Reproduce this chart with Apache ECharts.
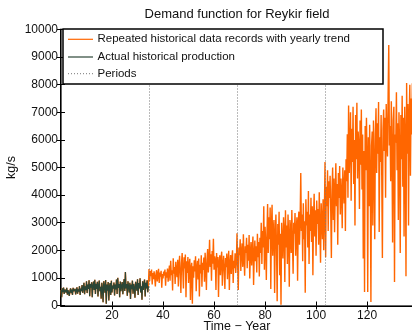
<!DOCTYPE html>
<html>
<head>
<meta charset="utf-8">
<script src="https://cdn.jsdelivr.net/npm/echarts@6/dist/echarts.min.js"></script>
<style>
  html, body { margin: 0; padding: 0; background: #ffffff; }
  #chart { width: 412px; height: 334px; }
</style>
</head>
<body>
<div id="chart"></div>
<script>
// Time between consecutive records (years) and start of each repetition period
const STEP = 0.25;
const PERIOD_STARTS = [34.5, 69, 103.5];

// Actual historical production, kg/s (years 0 - 34.25)
const historical = [
  560, 300, 620, 480, 650, 420, 580, 510,
  470, 640, 390, 560, 600, 350, 530, 620,
  450, 580, 380, 640, 520, 470, 600, 400,
  560, 660, 430, 590, 500, 700, 380, 610,
  520, 740, 460, 650, 820, 410, 700, 560,
  880, 450, 760, 600, 910, 340, 780, 650,
  840, 300, 720, 870, 560, 930, 420, 790,
  600, 860, 330, 740, 900, 520, 680, 250,
  820, 610, 120, 880, 700, 460, 920, 60,
  760, 540, 850, 180, 690, 810, 380, 900,
  470, 720, 610, 830, 360, 760, 580, 940,
  420, 1000, 640, 780, 300, 870, 520, 700,
  850, 410, 760, 960, 530, 1210, 620, 780,
  350, 880, 690, 470, 820, 240, 760, 590,
  900, 430, 780, 650, 280, 860, 720, 540,
  950, 380, 810, 620, 990, 470, 700, 210,
  880, 560, 760, 940, 330, 820, 620, 910,
  480, 700
];

// Repeated records with yearly trend, second period (years 34.5 - 68.75)
const period1 = [
  1320, 880, 1250, 1060, 1300, 760, 1180, 950,
  1240, 1010, 690, 1150, 1280, 870, 1120, 1330,
  820, 1190, 1050, 1260, 640, 1140, 980, 1230,
  1080, 1300, 720, 1200, 1010, 1340, 860, 1170,
  1450, 900, 1620, 1100, 1280, 540, 1710, 1150,
  1390, 780, 1580, 1240, 1030, 1660, 690, 1450,
  1800, 1120, 450, 1530, 1900, 1270, 620, 1750,
  1340, 1850, 300, 1600, 1180, 1760, 820, 1480,
  1690, 200, 1370, 1550, 60, 1420, 1010, 1640,
  1230, 1780, 520, 1360, 1620, 940, 1700, 330,
  1480, 1160, 1820, 680, 1550, 1290, 1740, 860,
  1910, 1350, 560, 1680, 2050, 1200, 1590, 2380,
  1400, 1860, 900, 1970, 1510, 2420, 1300, 1780,
  1650, 560, 1900, 1380, 1760, 310, 1540, 1820,
  1100, 1680, 1950, 720, 1470, 1800, 1250, 600,
  1720, 1390, 1880, 950, 1600, 1980, 560, 1510,
  1830, 1140, 1700, 2000, 820, 1620, 1350, 1890,
  1180, 1560
];

// Third period (years 69 - 103.25)
const period2 = [
  2620, 1500, 560, 2100, 1820, 2400, 1250, 1950,
  2250, 1400, 2580, 1700, 1080, 2150, 1900, 2450,
  1350, 2200, 1620, 2550, 980, 1900, 2300, 1450,
  2050, 2500, 740, 1800, 2350, 1600, 2150, 1200,
  2600, 1750, 2300, 1050, 2450, 1900, 3000, 1500,
  2700, 2100, 3600, 1300, 2850, 2300, 920, 2600,
  3680, 1900, 3200, 2400, 3550, 600, 2900, 3650,
  1800, 2750, 3100, 450, 2500, 3300, 2050, 150,
  2950, 2200, 3400, 1100, 2600, 30, 3000, 2350,
  1700, 3200, 2700, 850, 3450, 2100, 2900, 1500,
  3300, 2450, 680, 3100, 2800, 1900, 3460, 2250,
  1150, 3000, 2600, 3350, 1800, 2750, 3200, 900,
  2950, 3400, 2200, 3100, 4800, 2700, 3300, 1600,
  3700, 2400, 3050, 460, 3850, 2900, 3400, 2100,
  4150, 1500, 3300, 2700, 3900, 2300, 3600, 1100,
  3200, 4050, 2500, 3450, 1800, 3800, 2950, 3500,
  2200, 4100, 2800, 1550, 3700, 3100, 2400, 3850,
  2000, 3300
];

// Fourth period (years 103.5 - 137.75)
const period3 = [
  5200, 1750, 4300, 3600, 4900, 2700, 4500, 3900,
  4700, 3400, 1720, 4200, 5000, 3100, 4600, 2650,
  4100, 5150, 3600, 4400, 2200, 4800, 3900, 5050,
  3300, 4600, 4100, 2800, 5000, 4300, 3700, 4900,
  2700, 5300, 4500, 6200, 3900, 7250, 4800, 5700,
  7000, 3800, 6400, 5200, 7200, 4400, 6000, 2900,
  6900, 5300, 7350, 4600, 6300, 5800, 3500, 6700,
  5100, 7100, 4200, 6200, 1700, 5600, 490, 6500,
  4900, 6800, 5400, 490, 6100, 3600, 6550, 4700,
  130, 5800, 6300, 2900, 6700, 5100, 2400, 6200,
  7150, 4800, 6600, 5500, 7370, 2660, 6100, 5200,
  6900, 4700, 1720, 6400, 7100, 5600, 6800, 3900,
  7300, 6000, 5400, 7700, 9440, 5800, 6500, 4500,
  7400, 5600, 2280, 6700, 7200, 850, 6200, 5900,
  7730, 4900, 6600, 3100, 7000, 5700, 1900, 6900,
  5300, 7600, 4300, 6800, 2500, 7200, 6100, 1060,
  8060, 5500, 7300, 2900, 6800, 8000, 4700, 7500,
  6200, 8050
];

const xTicks = [20, 40, 60, 80, 100, 120];
const yTicks = [0, 1000, 2000, 3000, 4000, 5000, 6000, 7000, 8000, 9000, 10000];

const legendNames = [
  'Repeated historical data records with yearly trend',
  'Actual historical production',
  'Periods'
];

const FONT = '"Liberation Sans", Arial, Helvetica, sans-serif';
const ORANGE = '#ff6600';
const DARK = '#2c4636';
const PERIOD_GREY = '#777777';

const repeated = historical.concat(period1, period2, period3);
const toPoints = arr => arr.map((v, i) => [i * STEP, v]);

const chart = echarts.init(document.getElementById('chart'), null, { renderer: 'canvas' });

const tickStyle = { color: '#000', width: 1 };

// Boxed legend in the upper-left corner of the plot
const LEG = { x: 63, y: 29, w: 320, h: 55, rows: [39.3, 57, 73.7] };
const legendSwatches = [
  { stroke: ORANGE, lineWidth: 1.2 },
  { stroke: DARK, lineWidth: 1.2 },
  { stroke: PERIOD_GREY, lineWidth: 1, lineDash: [1, 2] }
];
const legendGraphics = [{
  type: 'rect', z: 100,
  shape: { x: LEG.x, y: LEG.y, width: LEG.w, height: LEG.h },
  style: { fill: '#ffffff', stroke: '#000', lineWidth: 1.5 }
}];
legendNames.forEach((name, i) => {
  const y = LEG.rows[i];
  legendGraphics.push({
    type: 'line', z: 101,
    shape: { x1: 68, y1: y, x2: 93, y2: y },
    style: legendSwatches[i]
  });
  legendGraphics.push({
    type: 'text', z: 101, x: 97.5, y: y,
    style: {
      text: name, font: '11.5px ' + FONT, fill: '#111',
      textAlign: 'left', textVerticalAlign: 'middle'
    }
  });
});

chart.setOption({
  animation: false,
  backgroundColor: '#ffffff',
  grid: { left: 61, top: 29.5, width: 352, height: 276, containLabel: false, outerBoundsMode: 'none' },
  graphic: [{
    type: 'text', z: 100,
    x: 237, y: 14,
    style: {
      text: 'Demand function for Reykir field',
      font: '13px ' + FONT,
      fill: '#111',
      textAlign: 'center',
      textVerticalAlign: 'middle'
    }
  }].concat(legendGraphics),
  xAxis: [{
    type: 'value', min: 0, max: 138, position: 'bottom',
    axisLine: { lineStyle: { color: '#000', width: 2 } },
    axisTick: { inside: true, length: 4, customValues: xTicks, lineStyle: tickStyle },
    axisLabel: { customValues: xTicks, margin: 4, fontSize: 12, fontFamily: FONT, color: '#111' },
    splitLine: { show: false },
    name: 'Time \u2212 Year', nameLocation: 'middle', nameGap: 15, nameMoveOverlap: false,
    nameTextStyle: { fontSize: 12.5, fontFamily: FONT, color: '#111' }
  }, {
    type: 'value', min: 0, max: 138, position: 'top',
    axisLine: { lineStyle: { color: '#666', width: 1 } },
    axisTick: { inside: true, length: 4, customValues: xTicks, lineStyle: tickStyle },
    axisLabel: { show: false },
    splitLine: { show: false }
  }],
  yAxis: [{
    type: 'value', min: 0, max: 10000, position: 'left',
    axisLine: { show: true, lineStyle: { color: '#000', width: 2 } },
    axisTick: { show: true, inside: true, length: 4, customValues: yTicks, lineStyle: tickStyle },
    axisLabel: {
      customValues: yTicks, margin: 3, fontSize: 12, fontFamily: FONT, color: '#111',
      formatter: v => String(v)
    },
    splitLine: { show: false },
    name: 'kg/s', nameLocation: 'middle', nameGap: 43, nameMoveOverlap: false,
    nameTextStyle: { fontSize: 12.5, fontFamily: FONT, color: '#111' }
  }, {
    type: 'value', min: 0, max: 10000, position: 'right',
    axisLine: { show: true, lineStyle: { color: '#666', width: 1 } },
    axisTick: { show: true, inside: true, length: 4, customValues: yTicks, lineStyle: tickStyle },
    axisLabel: { show: false },
    splitLine: { show: false }
  }],
  series: [{
    name: legendNames[0],
    type: 'line',
    data: toPoints(repeated),
    showSymbol: false, symbol: 'none',
    sampling: null,
    lineStyle: { color: ORANGE, width: 1.4 },
    z: 2
  }, {
    name: legendNames[1],
    type: 'line',
    data: toPoints(historical),
    showSymbol: false, symbol: 'none',
    lineStyle: { color: DARK, width: 1.2 },
    z: 3
  }, {
    name: legendNames[2],
    type: 'line',
    data: [],
    showSymbol: false, symbol: 'none',
    z: 1,
    markLine: {
      silent: true,
      symbol: 'none',
      label: { show: false },
      lineStyle: { color: PERIOD_GREY, width: 1, type: [1, 2] },
      data: PERIOD_STARTS.map(x => ({ xAxis: x }))
    }
  }]
});
</script>
</body>
</html>
